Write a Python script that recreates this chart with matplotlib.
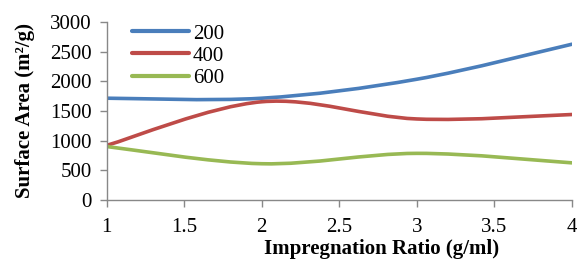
import matplotlib
matplotlib.use("Agg")
import matplotlib.pyplot as plt
from matplotlib.path import Path
from matplotlib.patches import PathPatch
from matplotlib.lines import Line2D

ratios = [1, 2, 3, 4]
s200 = [1715, 1715, 2035, 2625]
s400 = [920, 1655, 1365, 1440]
s600 = [900, 610, 785, 625]
labels = ["200", "400", "600"]
colors = ["#4a7ebb", "#be4b48", "#98b954"]
xticks = [1, 1.5, 2, 2.5, 3, 3.5, 4]
yticks = [0, 500, 1000, 1500, 2000, 2500, 3000]

plt.rcParams['font.family'] = ['Liberation Serif']

fig = plt.figure(figsize=(5.77, 2.62), dpi=100)
ax = fig.add_axes([0.185, 0.237, 0.806, 0.679])


def smooth_path(xs, ys):
    pts = list(zip(xs, ys))
    verts = [pts[0]]
    codes = [Path.MOVETO]
    n = len(pts)
    for i in range(n - 1):
        p0 = pts[i - 1] if i > 0 else pts[i]
        p1 = pts[i]
        p2 = pts[i + 1]
        p3 = pts[i + 2] if i + 2 < n else pts[i + 1]
        c1 = (p1[0] + (p2[0] - p0[0]) / 6, p1[1] + (p2[1] - p0[1]) / 6)
        c2 = (p2[0] - (p3[0] - p1[0]) / 6, p2[1] - (p3[1] - p1[1]) / 6)
        verts += [c1, c2, p2]
        codes += [Path.CURVE4] * 3
    return Path(verts, codes)


handles = []
for ys, lab, c in zip([s200, s400, s600], labels, colors):
    patch = PathPatch(smooth_path(ratios, ys), facecolor="none", edgecolor=c,
                      lw=2.6, capstyle="round", joinstyle="round")
    ax.add_patch(patch)
    handles.append(Line2D([], [], color=c, lw=3, solid_capstyle="round", label=lab))

ax.set_xlim(1, 4)
ax.set_ylim(0, 3000)
ax.set_xticks(xticks)
ax.set_xticklabels([f"{t:g}" for t in xticks])
ax.set_yticks(yticks)
for s in ["top", "right"]:
    ax.spines[s].set_visible(False)
for s in ["left", "bottom"]:
    ax.spines[s].set_color("#888888")
    ax.spines[s].set_linewidth(1)
ax.tick_params(axis="both", colors="#888888", labelcolor="black", labelsize=15,
               length=5, width=1, direction="out")
ax.tick_params(axis="x", pad=8)
ax.tick_params(axis="y", pad=6)

ax.set_xlabel("Impregnation Ratio (g/ml)", fontsize=15, fontweight="bold")
ax.set_ylabel("Surface Area (m²/g)", fontsize=15, fontweight="bold")
ax.xaxis.set_label_coords(0.592, -0.222)
ax.yaxis.set_label_coords(-0.155, 0.5)

leg = ax.legend(handles=handles, loc="upper left", bbox_to_anchor=(0.037, 1.035),
                frameon=False, fontsize=15, handlelength=2.7, handletextpad=0.2,
                labelspacing=0.12, borderaxespad=0)

fig.savefig("out.png", dpi=100)
